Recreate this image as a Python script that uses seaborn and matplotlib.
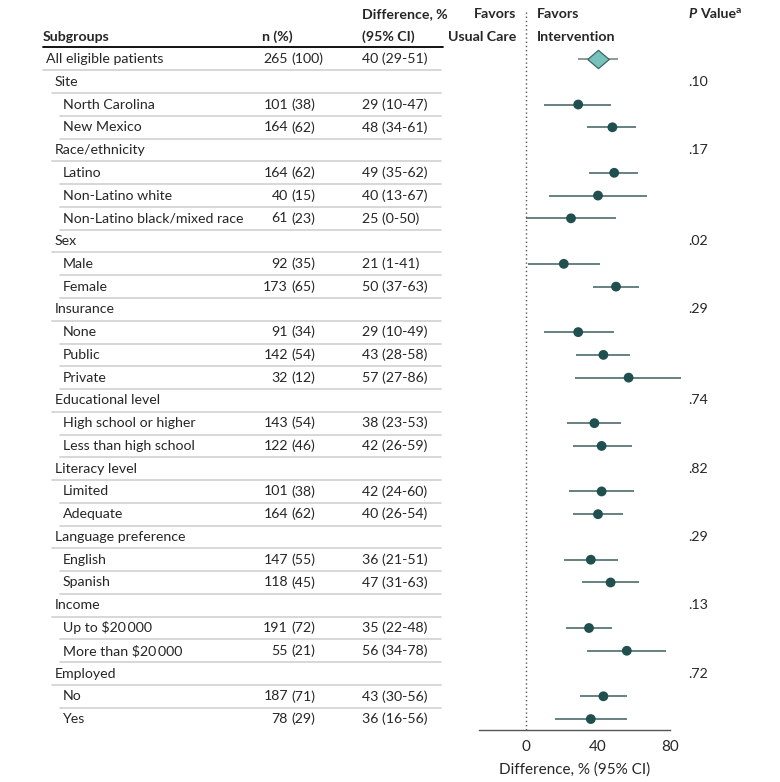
import matplotlib.pyplot as plt
import matplotlib.transforms as mtransforms
import numpy as np
import pandas as pd
import seaborn as sns

# table data (category rows have no estimate)
labels = ["All eligible patients", "Site", "North Carolina", "New Mexico",
          "Race/ethnicity", "Latino", "Non-Latino white", "Non-Latino black/mixed race",
          "Sex", "Male", "Female", "Insurance", "None", "Public", "Private",
          "Educational level", "High school or higher", "Less than high school",
          "Literacy level", "Limited", "Adequate", "Language preference", "English", "Spanish",
          "Income", "Up to \\$20\u2009000", "More than \\$20\u2009000", "Employed", "No", "Yes"]
levels = [0, 1, 2, 2, 1, 2, 2, 2, 1, 2, 2, 1, 2, 2, 2, 1, 2, 2, 1, 2, 2, 1, 2, 2, 1, 2, 2, 1, 2, 2]
n_count = [265, None, 101, 164, None, 164, 40, 61, None, 92, 173, None, 91, 142, 32, None,
           143, 122, None, 101, 164, None, 147, 118, None, 191, 55, None, 187, 78]
n_pct = [100, None, 38, 62, None, 62, 15, 23, None, 35, 65, None, 34, 54, 12, None,
         54, 46, None, 38, 62, None, 55, 45, None, 72, 21, None, 71, 29]
diff = [40, None, 29, 48, None, 49, 40, 25, None, 21, 50, None, 29, 43, 57, None,
        38, 42, None, 42, 40, None, 36, 47, None, 35, 56, None, 43, 36]
ci_low = [29, None, 10, 34, None, 35, 13, 0, None, 1, 37, None, 10, 28, 27, None,
          23, 26, None, 24, 26, None, 21, 31, None, 22, 34, None, 30, 16]
ci_high = [51, None, 47, 61, None, 62, 67, 50, None, 41, 63, None, 49, 58, 86, None,
           53, 59, None, 60, 54, None, 51, 63, None, 48, 78, None, 56, 56]
p_values = ["", ".10", "", "", ".17", "", "", "", ".02", "", "", ".29", "", "", "", ".74",
            "", "", ".82", "", "", ".29", "", "", ".13", "", "", ".72", "", ""]
x_ticks = [0, 40, 80]

sns.set_style("white")
plt.rcParams['font.family'] = ['Lato', 'DejaVu Sans']

W, H = 780, 782
fig = plt.figure(figsize=(W / 100, H / 100), dpi=100)

# forest axes: 0 -> px 526, 1.8 px per unit
left_px, right_px, top_px, bot_px = 470, 690, 12, 730
ax = fig.add_axes([left_px / W, 1 - bot_px / H, (right_px - left_px) / W, (bot_px - top_px) / H])
ax.set_xlim((left_px - 526) / 1.8, (right_px - 526) / 1.8)
row_px = 22.76
ax.set_ylim((bot_px - 59) / row_px, (top_px - 59) / row_px)

df = pd.DataFrame({"row": np.arange(len(labels)), "diff": diff, "lo": ci_low, "hi": ci_high})
df = df.dropna()
sub = df[df.row > 0]
overall = df[df.row == 0]

dot_color = "#1f4f4e"
ax.hlines(sub.row, sub.lo, sub.hi, color="#3d5f5e", lw=1.1, zorder=2)
sns.scatterplot(data=sub, x="diff", y="row", ax=ax, color=dot_color, s=50,
                edgecolor="none", zorder=3, legend=False)
ax.hlines(overall.row, overall.lo, overall.hi, color="#6f7f7e", lw=1.1, zorder=2)
diamond = [(-1, 0), (0, 0.85), (1, 0), (0, -0.85), (-1, 0)]
sns.scatterplot(data=overall, x="diff", y="row", ax=ax, marker=diamond, s=240,
                color="#78c2bd", edgecolor="#3b6664", linewidth=0.9, zorder=3, legend=False)

ax.axvline(0, color="#555555", lw=1, ls=(0, (1, 2)), zorder=1)

for side in ["top", "right", "left"]:
    ax.spines[side].set_visible(False)
ax.spines["bottom"].set_bounds(-26, 80)
ax.spines["bottom"].set_color("#555555")
ax.spines["bottom"].set_linewidth(1)
ax.set_yticks([])
ax.set_xticks(x_ticks)
ax.tick_params(axis="x", length=4, width=1, color="#555555", labelsize=11, pad=3)
ax.set_xlabel("Difference, % (95% CI)", fontsize=11)
ax.xaxis.set_label_coords((27 - ax.get_xlim()[0]) / (ax.get_xlim()[1] - ax.get_xlim()[0]), -0.045)
ax.set_ylabel("")

# table text
tr = mtransforms.blended_transform_factory(fig.transFigure, ax.transData)
fs = 10.2
indent_px = [46, 55, 63]
for i, lab in enumerate(labels):
    ax.text(indent_px[levels[i]] / W, i, lab, transform=tr, fontsize=fs, va="center",
            ha="left", clip_on=False)
    if n_count[i] is not None:
        ax.text(288 / W, i, f"{n_count[i]}", transform=tr, fontsize=fs, va="center", ha="right")
        ax.text(291 / W, i, f"({n_pct[i]})", transform=tr, fontsize=fs, va="center", ha="left")
        ax.text(362 / W, i, f"{diff[i]} ({ci_low[i]}-{ci_high[i]})", transform=tr,
                fontsize=fs, va="center", ha="left")
    if p_values[i]:
        ax.text(688 / W, i, p_values[i], transform=tr, fontsize=fs, va="center", ha="left")
    if i < len(labels) - 1:
        y_sep = i + 0.5
        ax.plot([(indent_px[levels[i]] - 3) / W, 441 / W], [y_sep, y_sep], transform=tr,
                color="#d4d4d4", lw=1.3, clip_on=False)

# header
hy1 = (14 - 59) / row_px
hy2 = (37 - 59) / row_px
hkw = dict(transform=tr, fontsize=fs, va="center", fontweight="bold")
ax.text(43 / W, hy2, "Subgroups", ha="left", **hkw)
ax.text(262 / W, hy2, "n (%)", ha="left", **hkw)
ax.text(362 / W, hy1, "Difference, %", ha="left", **hkw)
ax.text(362 / W, hy2, "(95% CI)", ha="left", **hkw)
ax.text(516 / W, hy1, "Favors", ha="right", **hkw)
ax.text(516 / W, hy2, "Usual Care", ha="right", **hkw)
ax.text(537 / W, hy1, "Favors", ha="left", **hkw)
ax.text(537 / W, hy2, "Intervention", ha="left", **hkw)
ax.text(688 / W, hy1, "P", ha="left", style="italic", **hkw)
ax.text(700 / W, hy1, "Value", ha="left", **hkw)
ax.text(736 / W, hy1 - 0.15, "a", transform=tr, fontsize=7.5, va="center", ha="left",
        fontweight="bold")
hline_y = (47 - 59) / row_px
ax.plot([43 / W, 443 / W], [hline_y, hline_y], transform=tr, color="black", lw=1.3,
        clip_on=False)

fig.savefig("out.png", dpi=100)
